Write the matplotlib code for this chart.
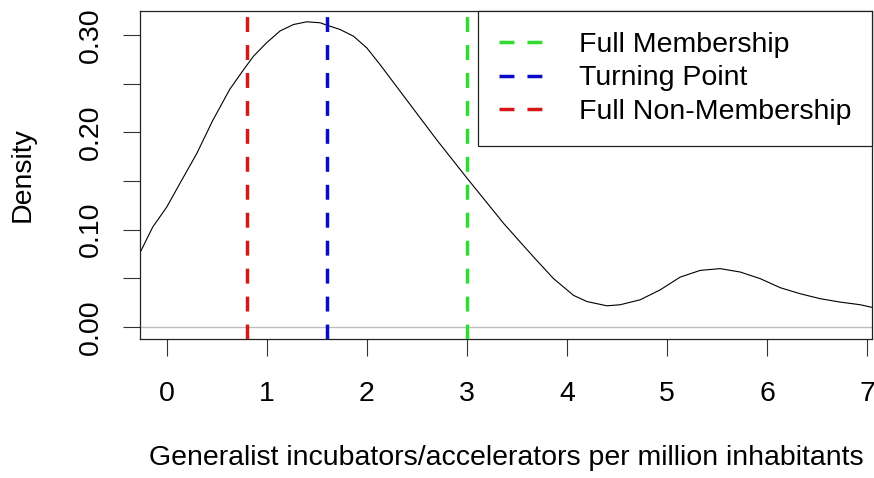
import matplotlib
matplotlib.use('Agg')
import matplotlib.pyplot as plt

plt.rcParams['font.family'] = ['Liberation Sans', 'DejaVu Sans']

# Density curve
density_x = [-0.27, -0.14, 0.00, 0.13, 0.30, 0.46, 0.63, 0.767, 0.867, 1.00,
             1.133, 1.267, 1.40, 1.533, 1.60, 1.733, 1.867, 2.00, 2.133, 2.37,
             2.70, 3.00, 3.37, 3.533, 3.667, 3.867, 4.067, 4.20, 4.40, 4.533,
             4.733, 4.933, 5.133, 5.333, 5.533, 5.733, 5.933, 6.133, 6.333, 6.533,
             6.733, 6.933, 7.067]
density_y = [0.0755, 0.1025, 0.123, 0.147, 0.178, 0.212, 0.244, 0.264, 0.278, 0.292,
             0.304, 0.3106, 0.3134, 0.3124, 0.310, 0.3055, 0.2986, 0.2866, 0.2694, 0.237,
             0.192, 0.153, 0.106, 0.0872, 0.0718, 0.0495, 0.0323, 0.026, 0.0216, 0.0227,
             0.0278, 0.038, 0.0511, 0.058, 0.0598, 0.0563, 0.0495, 0.0402, 0.034, 0.0289,
             0.0254, 0.0227, 0.0196]

# Thresholds
threshold_labels = ['Full Membership', 'Turning Point', 'Full Non-Membership']
threshold_values = [3.0, 1.6, 0.8]
threshold_colors = ['#2fdc2f', '#0a0ac8', '#d41818']

x_ticks = [0, 1, 2, 3, 4, 5, 6, 7]
y_ticks = [0.00, 0.05, 0.10, 0.15, 0.20, 0.25, 0.30]
y_tick_labels = ['0.00', '', '0.10', '', '0.20', '', '0.30']

FS = 20.5

fig = plt.figure(figsize=(8.74, 4.78), dpi=100)
ax = fig.add_axes((140 / 874, 1 - 339 / 478, 732 / 874, 328 / 478))

ax.axhline(0, color='#bebebe', lw=1.0, zorder=1)
ax.plot(density_x, density_y, color='black', lw=0.8, zorder=2)

for label, xv, col in zip(threshold_labels, threshold_values, threshold_colors):
    ax.axvline(xv, color=col, lw=2.5, dashes=(4.3, 3.75), label=label, zorder=3)

ax.set_xlim(-0.267, 7.05)
ax.set_ylim(-0.0125, 0.3245)

ax.set_xticks(x_ticks)
ax.set_xticklabels([str(t) for t in x_ticks])
ax.set_yticks(y_ticks)
ax.set_yticklabels(y_tick_labels, rotation=90, va='center')
ax.tick_params(axis='both', labelsize=FS, length=12, width=0.8, color='#333333')
ax.tick_params(axis='x', pad=18)
ax.tick_params(axis='y', pad=14)

for s in ax.spines.values():
    s.set_linewidth(0.9)
    s.set_color('#222222')

leg = ax.legend(loc='upper right', bbox_to_anchor=(1, 1), borderaxespad=0,
                fontsize=FS, frameon=True, fancybox=False, framealpha=1,
                handlelength=1.62, handletextpad=1.2, borderpad=0.72,
                labelspacing=0.28)
leg.get_frame().set_edgecolor('#222222')
leg.get_frame().set_linewidth(0.9)

fig.text(506 / 874, 1 - 458 / 478, 'Generalist incubators/accelerators per million inhabitants',
         ha='center', va='center', fontsize=FS)
fig.text(23 / 874, 1 - 175 / 478, 'Density', rotation=90,
         ha='center', va='center', fontsize=FS)

fig.savefig('out.png', dpi=100)
plt.close(fig)
